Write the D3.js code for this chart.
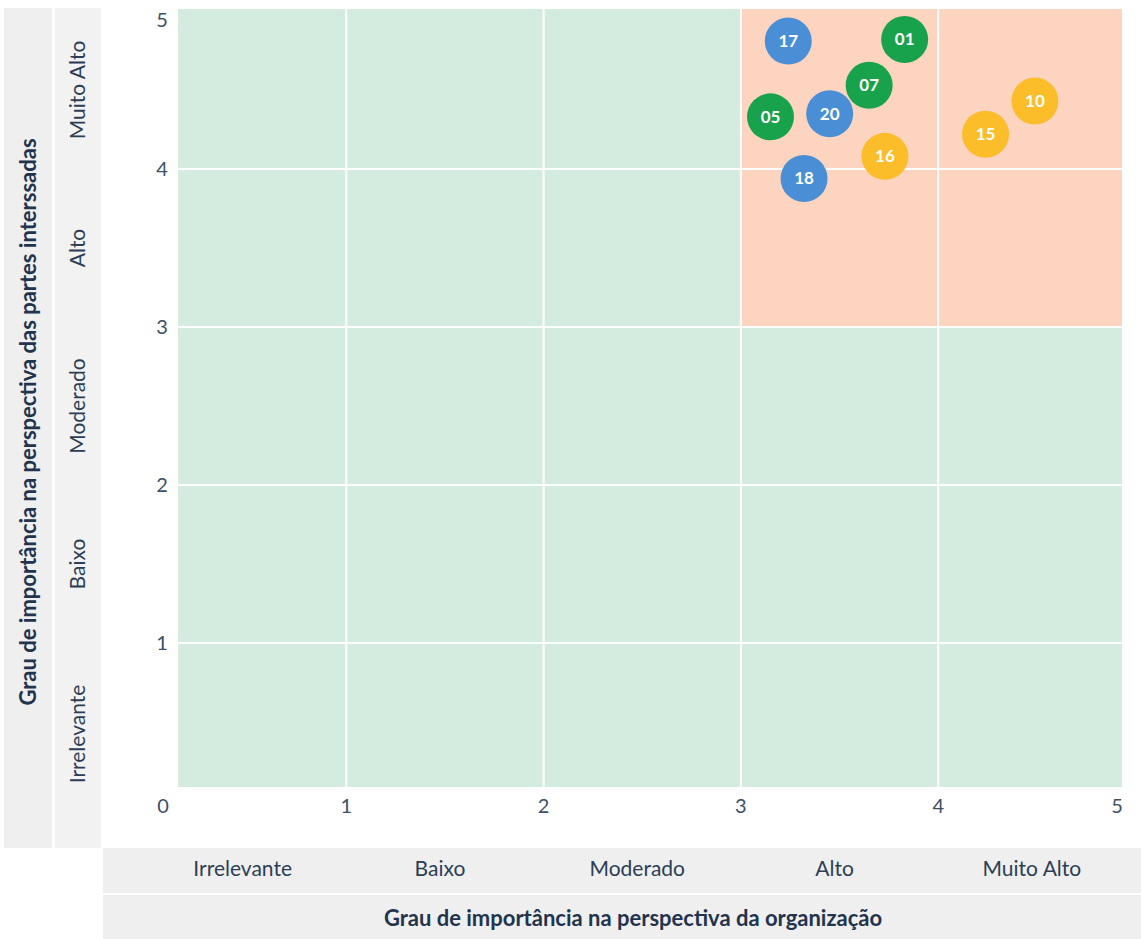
<!DOCTYPE html>
<html>
<head>
<meta charset="utf-8">
<script src="https://cdn.jsdelivr.net/npm/d3@7"></script>
<style>
  body { margin: 0; background: #fff; }
  svg { display: block; font-family: Lato, "Open Sans", sans-serif; }
</style>
</head>
<body>
<div id="app"></div>
<script>
// data
const levels = ["Irrelevante", "Baixo", "Moderado", "Alto", "Muito Alto"];
const ticks = [0, 1, 2, 3, 4, 5];
const ids = ["17", "01", "07", "05", "20", "16", "18", "15", "10"];
const orgScore = [3.24, 3.83, 3.65, 3.15, 3.45, 3.73, 3.32, 4.24, 4.49];
const stakeScore = [4.81, 4.82, 4.53, 4.33, 4.35, 4.08, 3.94, 4.22, 4.43];
const groups = ["b", "g", "g", "g", "b", "y", "b", "y", "y"];

const W = 1141, H = 939;
const colors = { g: "#17a24b", b: "#4a8fd6", y: "#fbbd2a" };
const textCol = "#2c3e55";

const svg = d3.select("#app").append("svg")
  .attr("width", W)
  .attr("height", H);

const x = d3.scaleLinear().domain([0, 5]).range([149, 1135.5]);
const y = d3.scaleLinear().domain([0, 5]).range([801, 11]);

const plot = { left: 178, right: 1122, top: 9, bottom: 787 };

// side and bottom panels
svg.append("rect").attr("x", 4).attr("y", 8).attr("width", 48).attr("height", 840).attr("fill", "#efefef");
svg.append("rect").attr("x", 55).attr("y", 8).attr("width", 46).attr("height", 840).attr("fill", "#f2f2f2");
svg.append("rect").attr("x", 103).attr("y", 848).attr("width", W - 103).attr("height", 45).attr("fill", "#efefef");
svg.append("rect").attr("x", 103).attr("y", 895).attr("width", W - 103).attr("height", 44).attr("fill", "#efefef");

// plot background
svg.append("rect")
  .attr("x", plot.left).attr("y", plot.top)
  .attr("width", plot.right - plot.left).attr("height", plot.bottom - plot.top)
  .attr("fill", "#d4ebdf");

// priority zone
svg.append("rect")
  .attr("x", x(3)).attr("y", plot.top)
  .attr("width", plot.right - x(3)).attr("height", y(3) - plot.top)
  .attr("fill", "#fdd4bf");

// grid
const grid = svg.append("g").attr("stroke", "#fff").attr("stroke-width", 2);
ticks.filter(t => t > 0 && t < 5).forEach(t => {
  grid.append("line").attr("x1", x(t)).attr("x2", x(t)).attr("y1", plot.top).attr("y2", plot.bottom);
  grid.append("line").attr("x1", plot.left).attr("x2", plot.right).attr("y1", y(t)).attr("y2", y(t));
});

// tick labels (the 0 is shared by both axes)
svg.append("g").selectAll("text")
  .data(ticks).join("text")
  .attr("x", d => Math.min(Math.max(x(d), 163), 1117))
  .attr("y", 806)
  .attr("dy", "0.35em")
  .attr("text-anchor", "middle")
  .attr("font-size", 20)
  .attr("fill", "#3d4f66")
  .text(d => d);

svg.append("g").selectAll("text")
  .data(ticks.filter(t => t > 0)).join("text")
  .attr("x", 162)
  .attr("y", d => Math.max(y(d), 20))
  .attr("dy", "0.35em")
  .attr("text-anchor", "middle")
  .attr("font-size", 20)
  .attr("fill", "#3d4f66")
  .text(d => d);

// category labels
svg.append("g").selectAll("text")
  .data(levels).join("text")
  .attr("x", (d, i) => x(i + 0.5) - 5)
  .attr("y", 869)
  .attr("dy", "0.35em")
  .attr("text-anchor", "middle")
  .attr("font-size", 21)
  .attr("fill", textCol)
  .text(d => d);

svg.append("g").selectAll("text")
  .data(levels).join("text")
  .attr("transform", (d, i) => `translate(78,${y(i + 0.5) + (i === 0 ? 12 : 0)}) rotate(-90)`)
  .attr("dy", "0.35em")
  .attr("text-anchor", "middle")
  .attr("font-size", 21)
  .attr("fill", textCol)
  .text(d => d);

// axis titles
svg.append("text")
  .attr("x", 633).attr("y", 918)
  .attr("dy", "0.35em")
  .attr("text-anchor", "middle")
  .attr("font-size", 22)
  .attr("font-weight", "bold")
  .attr("fill", "#22344d")
  .text("Grau de importância na perspectiva da organização");

svg.append("text")
  .attr("transform", "translate(28,422) rotate(-90)")
  .attr("dy", "0.35em")
  .attr("text-anchor", "middle")
  .attr("font-size", 22)
  .attr("font-weight", "bold")
  .attr("fill", "#22344d")
  .text("Grau de importância na perspectiva das partes interssadas");

// bubbles
const points = ids.map((id, i) => ({ id, ox: orgScore[i], sy: stakeScore[i], grp: groups[i] }));

const node = svg.append("g").selectAll("g")
  .data(points).join("g")
  .attr("transform", d => `translate(${x(d.ox)},${y(d.sy)})`);

node.append("circle")
  .attr("r", 23.5)
  .attr("fill", d => colors[d.grp]);

node.append("text")
  .attr("dy", "0.35em")
  .attr("text-anchor", "middle")
  .attr("font-size", 17)
  .attr("font-weight", "bold")
  .attr("fill", "#fff")
  .text(d => d.id);
</script>
</body>
</html>
